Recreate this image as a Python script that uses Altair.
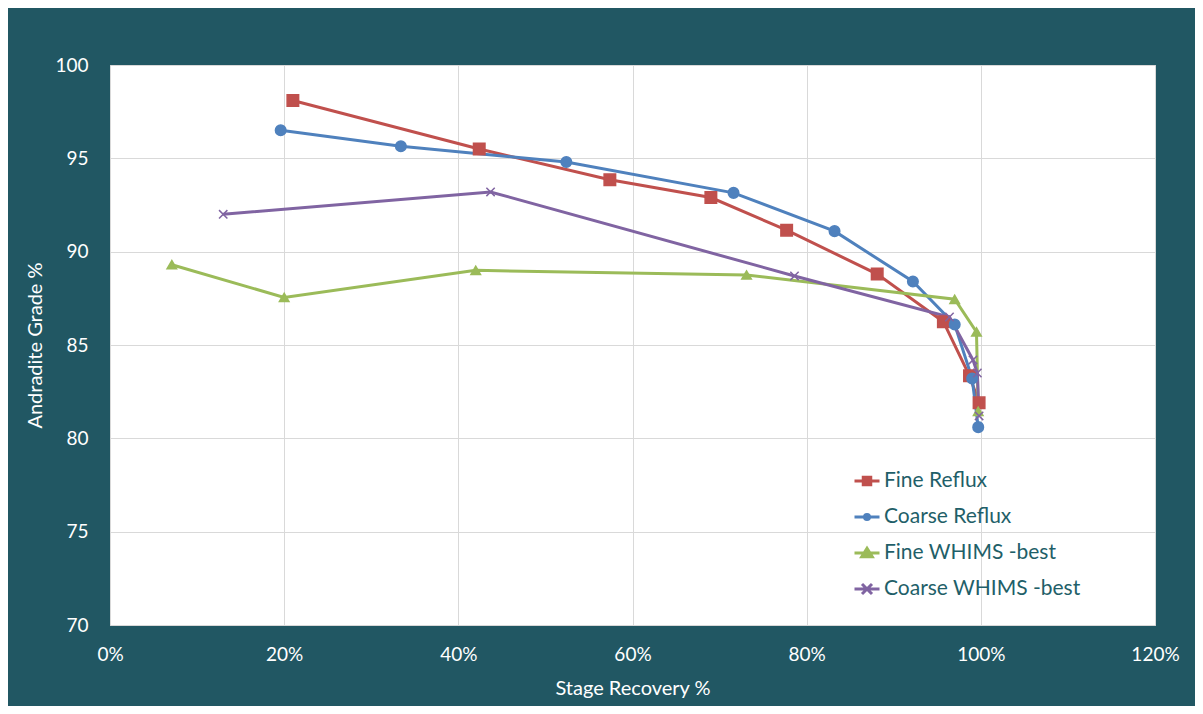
import altair as alt
import pandas as pd

# ---- data ----
series = ["Fine Reflux", "Coarse Reflux", "Fine WHIMS -best", "Coarse WHIMS -best"]
colors = ["#C0504D", "#4F81BD", "#9BBB59", "#8064A2"]

fine_reflux_x = [0.210, 0.424, 0.574, 0.690, 0.777, 0.881, 0.957, 0.987, 0.998]
fine_reflux_y = [98.1, 95.5, 93.85, 92.9, 91.15, 88.8, 86.25, 83.35, 81.9]

coarse_reflux_x = [0.196, 0.334, 0.524, 0.716, 0.832, 0.922, 0.970, 0.990, 0.997]
coarse_reflux_y = [96.5, 95.65, 94.8, 93.15, 91.1, 88.4, 86.1, 83.2, 80.6]

fine_whims_x = [0.071, 0.200, 0.420, 0.731, 0.970, 0.995, 0.997]
fine_whims_y = [89.3, 87.55, 89.0, 88.75, 87.45, 85.7, 81.45]

coarse_whims_x = [0.130, 0.437, 0.786, 0.964, 0.991, 0.996, 0.998]
coarse_whims_y = [92.0, 93.2, 88.7, 86.5, 84.2, 83.5, 81.2]

x_ticks = [0.0, 0.2, 0.4, 0.6, 0.8, 1.0, 1.2]
y_ticks = [70, 75, 80, 85, 90, 95, 100]

rows = []
for name, xs, ys in [
    (series[0], fine_reflux_x, fine_reflux_y),
    (series[1], coarse_reflux_x, coarse_reflux_y),
    (series[2], fine_whims_x, fine_whims_y),
    (series[3], coarse_whims_x, coarse_whims_y),
]:
    for i, (xv, yv) in enumerate(zip(xs, ys)):
        rows.append({"series": name, "x": xv, "y": yv, "idx": i})
df = pd.DataFrame(rows)

TEAL = "#215763"
FONT = "Lato"

x_enc = alt.X(
    "x:Q",
    scale=alt.Scale(domain=[0, 1.2], nice=False, zero=False),
    axis=alt.Axis(
        values=x_ticks, format=".0%", title="Stage Recovery %",
        grid=True, ticks=False, domain=False, labelPadding=20, titlePadding=14,
        labelFontSize=19, titleFontSize=20, labelColor="white", titleColor="white",
        labelFont=FONT, titleFont=FONT, titleFontWeight="normal",
        gridColor="#d9d9d9", labelFlush=False,
    ),
)
y_enc = alt.Y(
    "y:Q",
    scale=alt.Scale(domain=[70, 100], nice=False, zero=False),
    axis=alt.Axis(
        values=y_ticks, title="Andradite Grade %",
        grid=True, ticks=False, domain=False, labelPadding=22, titlePadding=9,
        labelFontSize=19, titleFontSize=20, labelColor="white", titleColor="white",
        labelFont=FONT, titleFont=FONT, titleFontWeight="normal",
        gridColor="#d9d9d9",
    ),
)

color_scale = alt.Scale(domain=series, range=colors)

lines = alt.Chart(df).mark_line(strokeWidth=3).encode(
    x=x_enc, y=y_enc,
    color=alt.Color("series:N", scale=color_scale, legend=None),
    order="idx:Q",
)

points = alt.Chart(df).mark_point(filled=True, strokeWidth=1.5, opacity=1).encode(
    x=x_enc, y=y_enc,
    fill=alt.Fill("series:N", scale=color_scale, legend=None),
    stroke=alt.Stroke("series:N", scale=color_scale, legend=None),
    shape=alt.Shape(
        "series:N",
        scale=alt.Scale(domain=series, range=["square", "circle", "triangle-up",
                                               "M-1,-1L1,1M-1,1L1,-1"]),
        legend=None,
    ),
    size=alt.Size("series:O", scale=alt.Scale(domain=series, range=[132, 70, 160, 150]),
                  legend=None),
)

legend_shapes = [
    "M-1,0H1M-0.3,-0.3H0.3V0.3H-0.3Z",
    "M-1,0H1M-0.2,0A0.2,0.2,0,1,1,0.2,0A0.2,0.2,0,1,1,-0.2,0Z",
    "M-1,0H1M0,-0.38L0.42,0.3H-0.42Z",
    "M-1,0H1M-0.4,-0.4L0.4,0.4M-0.4,0.4L0.4,-0.4",
]
leg = alt.Legend(
    title=None, orient="none", legendX=743, legendY=402,
    symbolSize=625, symbolStrokeWidth=3, labelFontSize=21, labelFont=FONT,
    labelColor="#1f5f69", rowPadding=12, padding=0, labelOffset=3,
    symbolOpacity=1, labelLimit=0,
)
legend_layer = alt.Chart(df).transform_filter(alt.datum.x > 5).mark_point(
    filled=True, opacity=1
).encode(
    x=x_enc, y=y_enc,
    fill=alt.Fill("series:N", scale=color_scale, legend=leg),
    stroke=alt.Stroke("series:N", scale=color_scale, legend=leg),
    shape=alt.Shape("series:N", scale=alt.Scale(domain=series, range=legend_shapes),
                    legend=leg),
)

chart = alt.layer(lines, points, legend_layer).resolve_scale(
    shape="independent", fill="independent", stroke="independent"
).properties(
    width=1045, height=560,
    background=TEAL,
    autosize=alt.AutoSizeParams(type="none"),
    padding={"left": 102, "top": 57, "right": 40, "bottom": 81},
).configure_view(fill="white", stroke="#cccccc", strokeWidth=1)

chart.save("out.html", embed_options={"renderer": "svg", "actions": False})
